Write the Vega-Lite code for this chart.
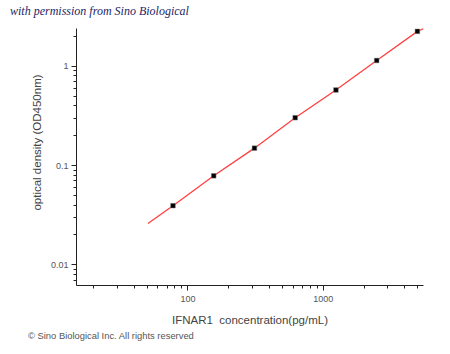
{
  "$schema": "https://vega.github.io/schema/vega-lite/v6.json",
  "width": 347,
  "height": 257,
  "autosize": {"type": "none"},
  "padding": {"left": 76, "top": 28, "right": 27, "bottom": 69},
  "background": "white",
  "title": {
    "text": "with permission from Sino Biological",
    "anchor": "start",
    "frame": "group",
    "dx": -66,
    "offset": 8,
    "font": "Liberation Serif",
    "fontStyle": "italic",
    "fontWeight": "normal",
    "fontSize": 12,
    "color": "#1c2566"
  },
  "config": {
    "view": {"stroke": null},
    "axis": {
      "grid": false,
      "domainColor": "#222",
      "tickColor": "#222",
      "labelColor": "#555",
      "titleColor": "#444",
      "labelFont": "Liberation Sans",
      "titleFont": "Liberation Sans",
      "labelFontSize": 9,
      "titleFontSize": 11.5,
      "titleFontWeight": "normal",
      "labelOverlap": false
    }
  },
  "datasets": {
    "curve": [
      {"conc": 51, "od": 0.0258},
      {"conc": 78.125, "od": 0.039},
      {"conc": 156.25, "od": 0.078},
      {"conc": 312.5, "od": 0.148},
      {"conc": 625, "od": 0.30},
      {"conc": 1250, "od": 0.57},
      {"conc": 2500, "od": 1.13},
      {"conc": 5000, "od": 2.22},
      {"conc": 5530, "od": 2.36}
    ],
    "points": [
      {"conc": 78.125, "od": 0.039},
      {"conc": 156.25, "od": 0.078},
      {"conc": 312.5, "od": 0.148},
      {"conc": 625, "od": 0.30},
      {"conc": 1250, "od": 0.57},
      {"conc": 2500, "od": 1.13},
      {"conc": 5000, "od": 2.22}
    ],
    "note": [{"t": "© Sino Biological Inc. All rights reserved"}]
  },
  "layer": [
    {
      "data": {"name": "curve"},
      "mark": {"type": "line", "color": "#ff4040", "strokeWidth": 1.3},
      "encoding": {
        "x": {
          "field": "conc",
          "type": "quantitative",
          "scale": {"type": "log", "domain": [15, 5500], "nice": false},
          "axis": {
            "title": "IFNAR1\u00a0\u00a0concentration(pg/mL)",
            "values": [20, 30, 40, 50, 60, 70, 80, 90, 100, 200, 300, 400, 500, 600, 700, 800, 900, 1000, 2000, 3000, 4000, 5000],
            "labelExpr": "datum.value == 100 ? '100' : datum.value == 1000 ? '1000' : ''",
            "tickSize": {"condition": {"test": "datum.value == 100 || datum.value == 1000", "value": 5}, "value": 3},
            "labelPadding": 4,
            "titleY": 35,
            "titleBaseline": "middle"
          }
        },
        "y": {
          "field": "od",
          "type": "quantitative",
          "scale": {"type": "log", "domain": [0.0062, 2.4], "nice": false},
          "axis": {
            "title": "optical density (OD450nm)",
            "values": [0.007, 0.008, 0.009, 0.01, 0.02, 0.03, 0.04, 0.05, 0.06, 0.07, 0.08, 0.09, 0.1, 0.2, 0.3, 0.4, 0.5, 0.6, 0.7, 0.8, 0.9, 1, 2],
            "labelExpr": "datum.value == 1 ? '1' : datum.value == 0.1 ? '0.1' : datum.value == 0.01 ? '0.01' : ''",
            "tickSize": {"condition": {"test": "datum.value == 1 || datum.value == 0.1 || datum.value == 0.01", "value": 5}, "value": 3},
            "labelPadding": 3,
            "titleX": -39,
            "titleY": 114,
            "titleBaseline": "middle"
          }
        }
      }
    },
    {
      "data": {"name": "points"},
      "mark": {"type": "square", "color": "#000", "size": 22, "opacity": 1, "stroke": "#888", "strokeWidth": 0.5},
      "encoding": {
        "x": {"field": "conc", "type": "quantitative"},
        "y": {"field": "od", "type": "quantitative"}
      }
    },
    {
      "data": {"name": "note"},
      "mark": {"type": "text", "align": "left", "baseline": "middle", "dx": -48, "dy": 51, "font": "Liberation Sans", "fontSize": 9.4, "color": "#555"},
      "encoding": {
        "x": {"datum": 15, "type": "quantitative"},
        "y": {"datum": 0.0062, "type": "quantitative"},
        "text": {"field": "t"}
      }
    }
  ]
}
